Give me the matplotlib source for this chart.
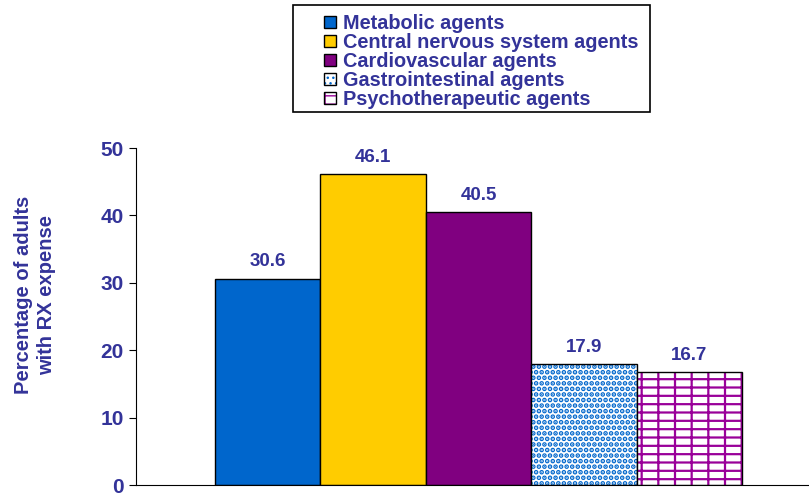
import matplotlib
matplotlib.use("Agg")
import matplotlib.pyplot as plt
from matplotlib.patches import Patch, Rectangle
from matplotlib.legend_handler import HandlerTuple

plt.rcParams["font.family"] = ["Liberation Sans", "DejaVu Sans"]

categories = ["Metabolic agents", "Central nervous system agents",
              "Cardiovascular agents", "Gastrointestinal agents",
              "Psychotherapeutic agents"]
values = [30.6, 46.1, 40.5, 17.9, 16.7]
yticks = [0, 10, 20, 30, 40, 50]

TEXT = "#333399"
# (face, hatch colour, hatch, hatch linewidth) per bar
styles = [("#0066CC", None, None, 0),
          ("#FFCC00", None, None, 0),
          ("#800080", None, None, 0),
          ("white", "#0066CC", "...", 2.4),
          ("white", "#990099", "-+", 1.6)]

fig = plt.figure(figsize=(8.09, 4.94), dpi=100)
ax = fig.add_axes([136 / 809, 9 / 494, 673 / 809, 337 / 494])

x = list(range(len(values)))
handles = []
for xi, v, (face, hc, hatch, hlw) in zip(x, values, styles):
    if hatch:
        with plt.rc_context({"hatch.linewidth": hlw}):
            ax.bar(xi, v, width=1.0, color=face, edgecolor=hc, hatch=hatch,
                   linewidth=0)
            hp = Patch(facecolor=face, edgecolor=hc, hatch=hatch, linewidth=0)
        ax.bar(xi, v, width=1.0, color="none", edgecolor="black", linewidth=1)
        handles.append((hp, Patch(facecolor="none", edgecolor="black",
                                  linewidth=1)))
    else:
        ax.bar(xi, v, width=1.0, color=face, edgecolor="black", linewidth=1)
        handles.append(Patch(facecolor=face, edgecolor="black", linewidth=1))
    ax.annotate(f"{v}", xy=(xi, v), xytext=(0, 6), textcoords="offset points",
                ha="center", va="bottom", fontsize=13.5, fontweight="bold",
                color=TEXT)

ax.set_xlim(-1.246, 5.133)
ax.set_ylim(0, 50)
ax.set_yticks(yticks)
ax.set_xticks([])
ax.tick_params(axis="y", direction="out", length=5, labelsize=15,
               labelcolor=TEXT, pad=4)
for lab in ax.get_yticklabels():
    lab.set_fontweight("bold")
ax.spines["top"].set_visible(False)
ax.spines["right"].set_visible(False)

fig.text(35 / 809, 1 - 295 / 494, "Percentage of adults\nwith RX expense",
         rotation=90, ha="center", va="center", fontsize=14.5,
         fontweight="bold", color=TEXT, linespacing=1.25)

# legend box drawn separately: the original has a wide left margin
fig.patches.append(Rectangle((293 / 809, 1 - 112 / 494), 357 / 809, 107 / 494,
                             transform=fig.transFigure, facecolor="white",
                             edgecolor="black", linewidth=1.2, zorder=2))
leg = fig.legend(handles, categories, loc="upper left",
                 bbox_to_anchor=(318 / 809, 1 - 8 / 494),
                 prop={"size": 14.3, "weight": "bold"},
                 handler_map={tuple: HandlerTuple(ndivide=1, pad=0)},
                 handlelength=0.6, handleheight=0.6, handletextpad=0.35,
                 labelspacing=0.0, borderpad=0.3, borderaxespad=0,
                 frameon=False)
leg.set_zorder(3)
for t in leg.get_texts():
    t.set_color(TEXT)

fig.savefig("out.png", dpi=100)
